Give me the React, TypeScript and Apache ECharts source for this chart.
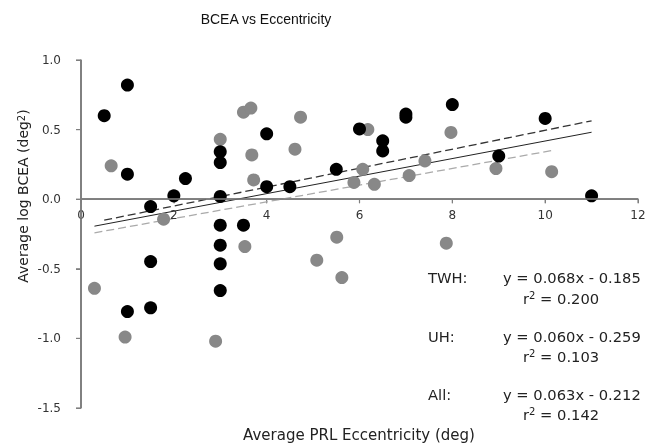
import React, { useEffect, useRef } from "react";
import * as echarts from "echarts";

// TWH (black) points
const twhEcc = [0.5, 1, 1, 1.5, 2, 2.25, 3, 3, 3, 4, 4, 4.5, 5.5, 6, 6.5, 6.5, 7, 7, 8, 9, 10, 11, 3, 3.5, 3, 3, 3, 1.5, 1.5, 1];
const twhBcea = [0.6, 0.82, 0.18, -0.053, 0.024, 0.148, 0.34, 0.263, 0.02, 0.47, 0.09, 0.09, 0.215, 0.505, 0.419, 0.347, 0.612, 0.589, 0.68, 0.31, 0.58, 0.024, -0.187, -0.187, -0.33, -0.464, -0.656, -0.448, -0.78, -0.807];
// UH (gray) points
const uhEcc = [0.65, 3, 3.5, 3.66, 3.68, 3.72, 4.61, 4.73, 6.18, 6.07, 5.88, 6.32, 7.07, 7.41, 7.97, 8.94, 10.14, 1.78, 3.53, 0.29, 5.08, 5.51, 5.62, 0.95, 2.9, 7.87];
const uhBcea = [0.24, 0.43, 0.625, 0.655, 0.318, 0.138, 0.359, 0.589, 0.5, 0.215, 0.12, 0.107, 0.17, 0.275, 0.48, 0.22, 0.198, -0.144, -0.34, -0.64, -0.438, -0.273, -0.563, -0.99, -1.02, -0.316];

// Trend lines (from printed equations)
const trendNames = ["TWH", "UH", "All"];
const trendSlopes = [0.068, 0.06, 0.063];
const trendIntercepts = [-0.185, -0.259, -0.212];
const trendR2 = ["0.200", "0.103", "0.142"];
const trendXStart = [0.5, 0.29, 0.29];
const trendXEnd = [11, 10.14, 11];

const xTicks = [0, 2, 4, 6, 8, 10, 12];
const yTicks = [-1.5, -1.0, -0.5, 0.0, 0.5, 1.0];

const FONT = "DejaVu Sans, Verdana, sans-serif";

export default function App() {
  const ref = useRef<HTMLDivElement>(null);
  useEffect(() => {
    if (!ref.current) return;
    const chart = echarts.init(ref.current, undefined, { renderer: "svg" });

    const xMin = xTicks[0];
    const xMax = xTicks[xTicks.length - 1];
    const yMin = yTicks[0];
    const yMax = yTicks[yTicks.length - 1];
    const axisColor = "#7f7f7f";

    const trendStyles = [
      { color: "#333333", type: [8, 4], width: 1.3 },
      { color: "#aaaaaa", type: [8, 4], width: 1.3 },
      { color: "#222222", type: "solid", width: 1 },
    ];

    const lineSeries = trendNames.map((n, i) => ({
      name: n + " fit",
      type: "line",
      symbol: "none",
      z: 1,
      silent: true,
      lineStyle: trendStyles[i],
      data: [
        [trendXStart[i], trendSlopes[i] * trendXStart[i] + trendIntercepts[i]],
        [trendXEnd[i], trendSlopes[i] * trendXEnd[i] + trendIntercepts[i]],
      ],
    }));

    // axis lines and ticks drawn through the chart's own coordinate system
    const axesSeries = {
      name: "axes",
      type: "custom",
      silent: true,
      clip: false,
      z: 1,
      data: [[xMin, 0]],
      renderItem: (_params: any, api: any) => {
        const children: any[] = [];
        const xa = api.coord([xMin, 0]);
        const xb = api.coord([xMax, 0]);
        children.push({
          type: "line",
          shape: { x1: xa[0], y1: xa[1], x2: xb[0], y2: xb[1] },
          style: { stroke: axisColor, lineWidth: 1.5 },
        });
        const ya = api.coord([xMin, yMin]);
        const yb = api.coord([xMin, yMax]);
        children.push({
          type: "line",
          shape: { x1: ya[0], y1: ya[1], x2: yb[0], y2: yb[1] },
          style: { stroke: axisColor, lineWidth: 1.5 },
        });
        xTicks.forEach((v) => {
          const p = api.coord([v, 0]);
          children.push({
            type: "line",
            shape: { x1: p[0], y1: p[1], x2: p[0], y2: p[1] + 4 },
            style: { stroke: axisColor, lineWidth: 1.2 },
          });
        });
        yTicks.forEach((v) => {
          const p = api.coord([xMin, v]);
          children.push({
            type: "line",
            shape: { x1: p[0] - 5, y1: p[1], x2: p[0], y2: p[1] },
            style: { stroke: axisColor, lineWidth: 1.2 },
          });
        });
        return { type: "group", children };
      },
    };

    const rowY = [
      [277, 298],
      [336, 356],
      [394, 414],
    ];
    const rich = {
      a: { fontSize: 14.7, fontFamily: FONT, fill: "#222" },
      s: { fontSize: 10, fontFamily: FONT, fill: "#222", verticalAlign: "top" },
    };
    const annot: any[] = [];
    trendNames.forEach((n, i) => {
      const b = trendIntercepts[i];
      const eq = `y = ${trendSlopes[i].toFixed(3)}x ${b < 0 ? "-" : "+"} ${Math.abs(b).toFixed(3)}`;
      annot.push({
        type: "text",
        x: 428,
        y: rowY[i][0],
        style: { text: n + ":", fontSize: 14.7, fontFamily: FONT, fill: "#222", align: "left", verticalAlign: "middle" },
      });
      annot.push({
        type: "text",
        x: 503,
        y: rowY[i][0],
        style: { text: eq, fontSize: 14.7, fontFamily: FONT, fill: "#222", align: "left", verticalAlign: "middle" },
      });
      annot.push({
        type: "text",
        x: 523,
        y: rowY[i][1],
        style: {
          text: `{a|r}{s|2}{a| = ${trendR2[i]}}`,
          rich,
          align: "left",
          verticalAlign: "middle",
        },
      });
    });

    const option: any = {
      animation: false,
      grid: { left: 81, right: 7, top: 60, bottom: 37, containLabel: false },
      xAxis: {
        type: "value",
        min: xMin,
        max: xMax,
        interval: 2,
        axisLine: { onZero: true, lineStyle: { color: axisColor, width: 1.5 } },
        axisTick: { show: true, length: 4, lineStyle: { color: axisColor } },
        axisLabel: { show: false },
        splitLine: { show: false },
      },
      yAxis: {
        type: "value",
        min: yMin,
        max: yMax,
        interval: 0.5,
        axisLine: { show: true, lineStyle: { color: axisColor, width: 1.5 } },
        axisTick: { show: true, length: 5, lineStyle: { color: axisColor } },
        axisLabel: {
          color: "#333",
          fontSize: 12,
          fontFamily: FONT,
          margin: 20,
          formatter: (v: number) => v.toFixed(1),
        },
        splitLine: { show: false },
      },
      series: [
        axesSeries,
        ...lineSeries,
        {
          name: "TWH",
          type: "scatter",
          symbol: "circle",
          symbolSize: 13,
          z: 3,
          itemStyle: { color: "#000000", opacity: 1 },
          data: twhEcc.map((x, i) => [x, twhBcea[i]]),
        },
        {
          name: "UH",
          type: "scatter",
          symbol: "circle",
          symbolSize: 13,
          z: 2,
          itemStyle: { color: "#888888", opacity: 1 },
          data: uhEcc.map((x, i) => [x, uhBcea[i]]),
          markLine: {
            silent: true,
            symbol: "none",
            label: { show: false },
            lineStyle: { color: axisColor, width: 1.5, type: "solid" },
            data: [{ yAxis: 0 }, { xAxis: xMin }],
          },
        },
        {
          name: "x tick labels",
          type: "scatter",
          silent: true,
          clip: false,
          symbolSize: 1,
          z: 4,
          itemStyle: { color: "rgba(0,0,0,0)" },
          label: {
            show: true,
            position: "bottom",
            distance: 9,
            color: "#333",
            opacity: 1,
            fontSize: 12,
            fontFamily: FONT,
            formatter: (p: any) => String(p.value[0]),
          },
          data: xTicks.map((v) => [v, 0]),
        },
      ],
      graphic: [
        {
          type: "text",
          x: 266,
          y: 19,
          style: {
            text: "BCEA vs Eccentricity",
            fontSize: 14,
            fontFamily: "Liberation Sans, Arial, sans-serif",
            fill: "#111",
            align: "center",
            verticalAlign: "middle",
          },
        },
        {
          type: "text",
          x: 359,
          y: 435,
          style: {
            text: "Average PRL Eccentricity (deg)",
            fontSize: 15,
            fontFamily: FONT,
            fill: "#222",
            align: "center",
            verticalAlign: "middle",
          },
        },
        {
          type: "text",
          x: 23,
          y: 196,
          rotation: Math.PI / 2,
          style: {
            text: "{a|Average log BCEA (deg}{s|2}{a|)}",
            rich: {
              a: { fontSize: 14, fontFamily: FONT, fill: "#222" },
              s: { fontSize: 10, fontFamily: FONT, fill: "#222", verticalAlign: "top" },
            },
            align: "center",
            verticalAlign: "middle",
          },
        },
        ...annot,
      ],
    };
    chart.setOption(option);
    return () => chart.dispose();
  }, []);
  return <div ref={ref} style={{ position: "fixed", left: 0, top: 0, width: 645, height: 445 }} />;
}
